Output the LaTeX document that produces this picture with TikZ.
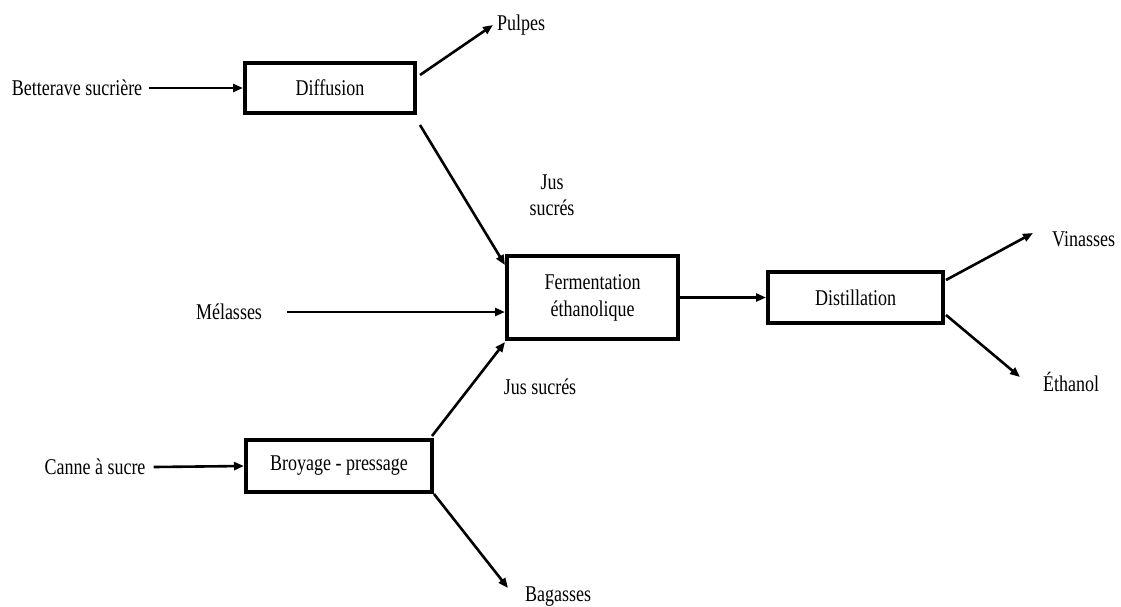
\documentclass[tikz,border=0pt]{standalone}
\usepackage{fontspec}
\usepackage{graphicx}
\setmainfont{Liberation Serif}
\usetikzlibrary{arrows.meta}
\newcommand\st[1]{\scalebox{1}[1.25]{#1}}
\tikzset{
  proc/.style={draw, line width=4pt, inner sep=0pt, minimum height=#1},
  lbl/.style={inner sep=0pt, font=\fontsize{18}{26}\selectfont, align=center},
  flow/.style={line width=2.6pt, -{Triangle[length=10pt,width=8pt]}}
}
\begin{document}
\begin{tikzpicture}[x=1pt,y=-1pt]
\useasboundingbox[fill=white] (0,0) rectangle (1121,606);
\begin{scope}[font=\fontsize{18}{26}\selectfont]
\node[proc=50pt, minimum width=170pt] (diff) at (330,88) {\st{Diffusion}};
\node[proc=83pt, minimum width=171pt, align=center] (ferm) at (592.5,297.5) {\st{Fermentation}\\[1pt]\st{éthanolique}};
\node[proc=51pt, minimum width=175pt] (dist) at (855.5,297.5) {\st{Distillation}};
\node[proc=52pt, minimum width=186pt] (broy) at (339,466) {\st{Broyage - pressage}};
\end{scope}

\node[lbl] (bett) at (77,88) {\st{Betterave sucrière}};
\node[lbl, anchor=west] (pulpes) at (497,25) {\st{Pulpes}};
\node[lbl] (jus1) at (552,195) {\st{Jus}\\\st{sucrés}};
\node[lbl] (mel) at (229,312) {\st{Mélasses}};
\node[lbl] (jus2) at (540,387) {\st{Jus sucrés}};
\node[lbl] (canne) at (95,467) {\st{Canne à sucre}};
\node[lbl, anchor=west] (bag) at (525,597) {\st{Bagasses}};
\node[lbl, anchor=west] (vin) at (1052,239) {\st{Vinasses}};
\node[lbl, anchor=west] (eth) at (1043,382) {\st{Éthanol}};

\draw[flow] ([xshift=7pt]bett.east) -- (diff.west);
\draw[flow] ([xshift=3pt,yshift=-14pt]diff.north east) -- ([xshift=-4pt]pulpes.west);
\draw[flow] ([xshift=3pt,yshift=-10pt]diff.south east) -- ([yshift=-11pt]ferm.north west);
\draw[flow] ([xshift=25pt]mel.east) -- ([yshift=-14.5pt]ferm.west);
\draw[flow] ([xshift=-2pt,yshift=2pt]broy.north east) -- ([yshift=-1pt]ferm.south west);
\draw[flow] ([xshift=8pt]canne.east) -- (broy.west);
\draw[flow] (broy.south east) -- ([xshift=-17pt,yshift=9pt]bag.west);
\draw[flow] (ferm.east) -- (dist.west);
\draw[flow] ([xshift=1pt,yshift=-10pt]dist.north east) -- ([xshift=-19pt,yshift=6pt]vin.west);
\draw[flow] ([xshift=1pt,yshift=10pt]dist.south east) -- ([xshift=-23pt,yshift=5pt]eth.west);
\end{tikzpicture}
\end{document}
